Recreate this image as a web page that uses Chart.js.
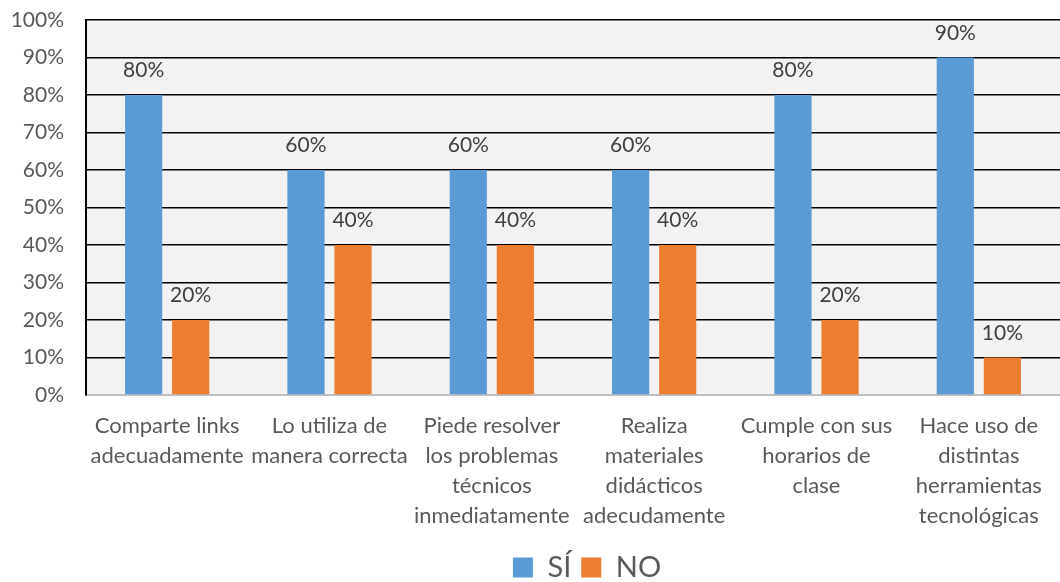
<!DOCTYPE html>
<html>
<head>
<meta charset="utf-8">
<script src="https://cdn.jsdelivr.net/npm/chart.js@4"></script>
<style>
  html, body { margin: 0; padding: 0; background: #fff; }
  #wrap { width: 1060px; height: 582px; }
</style>
</head>
<body>
<div id="wrap"><canvas id="chart"></canvas></div>
<script>
// categories (multi-line, as wrapped in the original)
const categories = [
    ["Comparte links", "adecuadamente"],
    ["Lo utiliza de", "manera correcta"],
    ["Piede resolver", "los problemas", "técnicos", "inmediatamente"],
    ["Realiza", "materiales", "didácticos", "adecudamente"],
    ["Cumple con sus", "horarios de", "clase"],
    ["Hace uso de", "distintas", "herramientas", "tecnológicas"]
];
const siValues = [80, 60, 60, 60, 80, 90];
const noValues = [20, 40, 40, 40, 20, 10];
const seriesNames = ["SÍ", "NO"];

const FONT = "Lato";

// light gray plot background
const plotBackground = {
    id: "plotBackground",
    beforeDraw: (chart) => {
        const { ctx, chartArea } = chart;
        ctx.save();
        ctx.fillStyle = "#F2F2F2";
        ctx.fillRect(chartArea.left, chartArea.top, chartArea.right - chartArea.left, chartArea.bottom - chartArea.top);
        ctx.restore();
    }
};

// value labels above each bar
const valueLabels = {
    id: "valueLabels",
    afterDatasetsDraw: (chart) => {
        const { ctx } = chart;
        ctx.save();
        ctx.font = "21px " + FONT;
        ctx.fillStyle = "#404040";
        ctx.textAlign = "center";
        ctx.textBaseline = "alphabetic";
        chart.data.datasets.forEach((ds, i) => {
            chart.getDatasetMeta(i).data.forEach((bar, j) => {
                ctx.fillText(ds.data[j] + "%", bar.x, bar.y - 18);
            });
        });
        ctx.restore();
    }
};

// nudge the legend a bit lower / right, like the original
const legendNudge = {
    id: "legendNudge",
    afterLayout: (chart) => {
        const lg = chart.legend;
        if (!lg) return;
        lg.top += 10; lg.bottom += 10;
        lg.left += 14; lg.right += 14;
    }
};

new Chart(document.getElementById("chart"), {
    type: "bar",
    data: {
        labels: categories,
        datasets: [
            { label: seriesNames[0], data: siValues, backgroundColor: "#5B9BD5" },
            { label: seriesNames[1], data: noValues, backgroundColor: "#ED7D31" }
        ]
    },
    options: {
        responsive: true,
        maintainAspectRatio: false,
        animation: false,
        layout: { padding: { top: 20, right: -9, left: 0, bottom: 0 } },
        datasets: { bar: { categoryPercentage: 0.58, barPercentage: 0.79 } },
        scales: {
            x: {
                grid: { display: false, drawTicks: false },
                border: { display: true, color: "#BFBFBF", width: 2 },
                ticks: {
                    autoSkip: false,
                    maxRotation: 0,
                    padding: 16,
                    color: "#595959",
                    font: { family: FONT, size: 22, lineHeight: 1.36 }
                },
                afterFit: (scale) => { scale.height = 138; }
            },
            y: {
                min: 0,
                max: 100,
                ticks: {
                    stepSize: 10,
                    padding: 22,
                    color: "#595959",
                    font: { family: FONT, size: 21 },
                    callback: (v) => v + "%"
                },
                grid: {
                    drawTicks: false,
                    lineWidth: 1.5,
                    color: (c) => c.tick && c.tick.value === 0 ? "#BFBFBF" : "#000000"
                },
                border: { display: true, color: "#000000", width: 2 },
                afterFit: (scale) => {
                    scale.width = 86;
                    scale.paddingTop = 14;
                    scale.paddingBottom = 14;
                }
            }
        },
        plugins: {
            legend: {
                position: "bottom",
                fullSize: false,
                labels: {
                    boxWidth: 20,
                    boxHeight: 20,
                    padding: 10,
                    color: "#595959",
                    font: { family: FONT, size: 29 }
                }
            },
            tooltip: { enabled: false }
        }
    },
    plugins: [plotBackground, valueLabels, legendNudge]
});
</script>
</body>
</html>
